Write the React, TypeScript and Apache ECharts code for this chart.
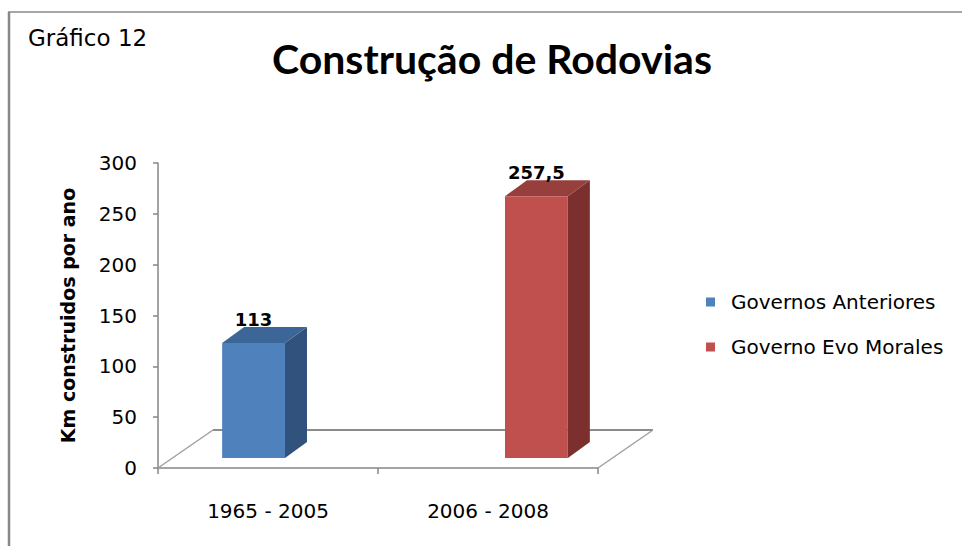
import React, { useEffect, useRef } from "react";
import * as echarts from "echarts";

const categories = ["1965 - 2005", "2006 - 2008"];
const seriesNames = ["Governos Anteriores", "Governo Evo Morales"];
const governosAnteriores = [113, null];
const governoEvoMorales = [null, 257.5];
const valueLabels = ["113", "257,5"];
const yTicks = { min: 0, max: 300, interval: 50 };

const FONT = "'DejaVu Sans', sans-serif";
const TITLE_FONT = "Lato, 'DejaVu Sans', sans-serif";
const colors = [
  { front: "#4F81BD", top: "#3C6698", side: "#30527C" },
  { front: "#C0504D", top: "#973F3C", side: "#7B302E" },
];
// 3D geometry (pixel offsets)
const FLOOR_DX = 55;
const FLOOR_DY = -38;
const BAR_DX = 17;
const BAR_DY = -10;
const DEPTH_DX = 22;
const DEPTH_DY = -16;

export default function App() {
  const ref = useRef<HTMLDivElement>(null);
  useEffect(() => {
    if (!ref.current) return;
    const chart = echarts.init(ref.current, null, { renderer: "svg" });
    const allSeries = [governosAnteriores, governoEvoMorales];

    const barSeries = allSeries.map((vals, s) => ({
      type: "custom",
      name: seriesNames[s],
      z: 3,
      itemStyle: { color: colors[s].front },
      encode: { x: 0, y: 1 },
      data: vals
        .map((v, i) => (v == null ? null : [i, v]))
        .filter((d) => d !== null),
      renderItem: (params: any, api: any) => {
        const cat = api.value(0);
        const val = api.value(1);
        const base = api.coord([cat, 0]);
        const top = api.coord([cat, val]);
        const band = api.size([1, 0])[0];
        const w = band / 3.5;
        const x0 = base[0] - w + s * w + BAR_DX;
        const x1 = x0 + w;
        const yb = base[1] + BAR_DY;
        const yt = top[1] + BAR_DY;
        const c = colors[s];
        return {
          type: "group",
          children: [
            {
              type: "polygon",
              shape: { points: [[x1, yt], [x1 + DEPTH_DX, yt + DEPTH_DY], [x1 + DEPTH_DX, yb + DEPTH_DY], [x1, yb]] },
              style: { fill: c.side },
            },
            {
              type: "polygon",
              shape: { points: [[x0, yt], [x1, yt], [x1 + DEPTH_DX, yt + DEPTH_DY], [x0 + DEPTH_DX, yt + DEPTH_DY]] },
              style: { fill: c.top },
            },
            {
              type: "rect",
              shape: { x: x0, y: yt, width: w, height: yb - yt },
              style: { fill: c.front },
            },
            {
              type: "text",
              x: (x0 + x1) / 2,
              y: yt + DEPTH_DY + 1,
              style: {
                text: valueLabels[cat],
                fill: "#000",
                font: `bold 18px ${FONT}`,
                textAlign: "center",
                textVerticalAlign: "bottom",
              },
            },
          ],
        };
      },
    }));

    const floorSeries = {
      type: "custom",
      name: "floor",
      z: 1,
      silent: true,
      data: [[0, 0]],
      encode: { x: 0, y: 1 },
      renderItem: (params: any) => {
        const cs = params.coordSys;
        const xl = cs.x;
        const xr = cs.x + cs.width;
        const yf = cs.y + cs.height;
        return {
          type: "group",
          children: [
            {
              type: "polyline",
              shape: { points: [[xl + FLOOR_DX, yf + FLOOR_DY], [xr + FLOOR_DX, yf + FLOOR_DY]] },
              style: { stroke: "#8C8C8C", lineWidth: 2, fill: "none" },
            },
            {
              type: "polyline",
              shape: { points: [[xl, yf], [xl + FLOOR_DX, yf + FLOOR_DY]] },
              style: { stroke: "#A0A0A0", lineWidth: 1.5, fill: "none" },
            },
            {
              type: "polyline",
              shape: { points: [[xr, yf], [xr + FLOOR_DX, yf + FLOOR_DY]] },
              style: { stroke: "#A0A0A0", lineWidth: 1.5, fill: "none" },
            },
          ],
        };
      },
    };

    chart.setOption({
      animation: false,
      backgroundColor: "#fff",
      textStyle: { fontFamily: FONT },
      title: [
        {
          text: "Gráfico 12",
          left: 23,
          top: 21,
          textStyle: { fontFamily: FONT, fontSize: 23, fontWeight: "normal", color: "#000" },
        },
        {
          text: "Construção de Rodovias",
          left: 267,
          top: 33,
          textStyle: { fontFamily: TITLE_FONT, fontSize: 41, fontWeight: "bold", color: "#000" },
        },
      ],
      legend: {
        orient: "vertical",
        left: 701,
        top: 286,
        itemWidth: 9,
        itemHeight: 9,
        itemGap: 23,
        icon: "rect",
        data: seriesNames,
        textStyle: { fontFamily: FONT, fontSize: 20, color: "#000", lineHeight: 22, padding: [0, 0, 0, 11] },
      },
      graphic: [
        { type: "line", shape: { x1: 9, y1: 12, x2: 9, y2: 546 }, style: { stroke: "#888", lineWidth: 2.5 } },
        { type: "line", shape: { x1: 8, y1: 12, x2: 962, y2: 12 }, style: { stroke: "#888", lineWidth: 1.5 } },
      ],
      grid: { left: 158, top: 163, width: 440, height: 305, containLabel: false },
      xAxis: {
        type: "category",
        data: categories,
        axisLine: { show: true, lineStyle: { color: "#868686", width: 1.5 } },
        axisTick: { show: true, length: 6, alignWithLabel: false, lineStyle: { color: "#868686", width: 1.5 } },
        axisLabel: { fontFamily: FONT, fontSize: 20, color: "#000", margin: 33 },
        splitLine: { show: false },
      },
      yAxis: {
        type: "value",
        min: yTicks.min,
        max: yTicks.max,
        interval: yTicks.interval,
        name: "Km construidos por ano",
        nameLocation: "middle",
        nameGap: 81,
        nameTextStyle: { fontFamily: FONT, fontSize: 19, fontWeight: "bold", color: "#000" },
        axisLine: { show: true, lineStyle: { color: "#868686", width: 1.5 } },
        axisTick: { show: true, length: 5, lineStyle: { color: "#868686", width: 1.5 } },
        axisLabel: { fontFamily: FONT, fontSize: 20, color: "#000", margin: 21 },
        splitLine: { show: false },
      },
      series: [floorSeries, ...barSeries],
    });
    return () => chart.dispose();
  }, []);
  return (
    <div
      ref={ref}
      style={{ position: "fixed", left: 0, top: 0, width: 962, height: 546 }}
    />
  );
}
